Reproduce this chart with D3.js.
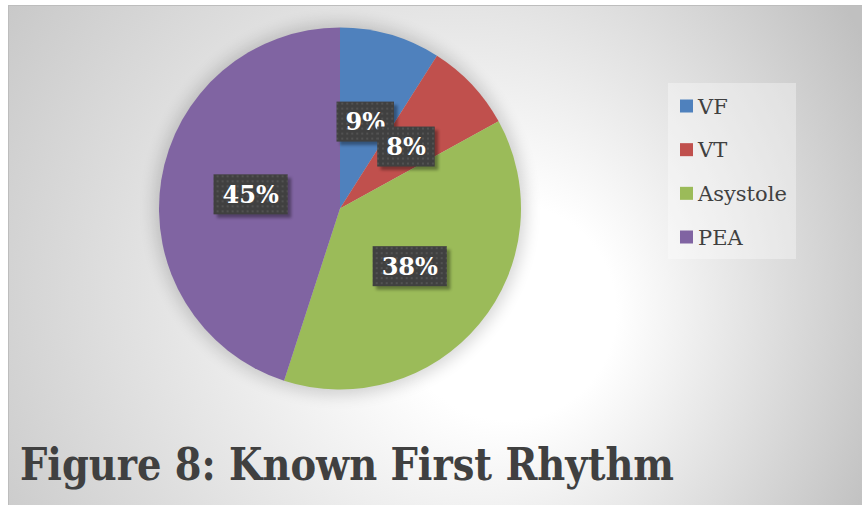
<!DOCTYPE html>
<html>
<head>
<meta charset="utf-8">
<script src="https://cdn.jsdelivr.net/npm/d3@7"></script>
<style>
  html, body { margin: 0; padding: 0; background: #ffffff; }
  svg { display: block; }
</style>
</head>
<body>
<script>
// Known first rhythm shares (percent)
const categories = ["VF", "VT", "Asystole", "PEA"];
const values = [9, 8, 38, 45];
const colors = ["#4f81bd", "#c0504d", "#9bbb59", "#8064a2"];
const titleText = "Figure 8: Known First Rhythm";

const W = 862, H = 505;
const svg = d3.select("body").append("svg").attr("width", W).attr("height", H);
const defs = svg.append("defs");

// background: soft radial light with a bright spot right of centre
const bg = defs.append("radialGradient").attr("id", "bgGrad")
  .attr("gradientUnits", "userSpaceOnUse")
  .attr("cx", 380).attr("cy", 280).attr("r", 540)
  .attr("fx", 540).attr("fy", 320);
bg.append("stop").attr("offset", "0").attr("stop-color", "#ffffff");
bg.append("stop").attr("offset", "0.2").attr("stop-color", "#ffffff");
bg.append("stop").attr("offset", "1").attr("stop-color", "#c0c0c0");

// blur for the pie halo
defs.append("filter").attr("id", "pieShadow")
  .attr("x", "-30%").attr("y", "-30%").attr("width", "160%").attr("height", "160%")
  .append("feGaussianBlur").attr("stdDeviation", 8);

// blurred offset shadow for the label boxes
const lf = defs.append("filter").attr("id", "boxShadow")
  .attr("x", "-30%").attr("y", "-30%").attr("width", "160%").attr("height", "160%");
lf.append("feGaussianBlur").attr("stdDeviation", 1.5);

// dotted texture for label boxes
const pat = defs.append("pattern").attr("id", "dots")
  .attr("patternUnits", "userSpaceOnUse").attr("width", 5).attr("height", 5);
pat.append("rect").attr("width", 5).attr("height", 5).attr("fill", "#404040");
pat.append("rect").attr("x", 1).attr("y", 1).attr("width", 2).attr("height", 2).attr("fill", "#525252");

// chart area
svg.append("rect")
  .attr("x", 8.5).attr("y", 5.5).attr("width", W - 8).attr("height", H - 5)
  .attr("fill", "url(#bgGrad)")
  .attr("stroke", "#bdbdbd").attr("stroke-width", 1);

// pie
const cx = 340, cy = 208.5, radius = 181;
const pie = d3.pie().sort(null).value(d => d.value);
const data = categories.map((c, i) => ({ name: c, value: values[i], color: colors[i] }));
const arcs = pie(data);
const arc = d3.arc().innerRadius(0).outerRadius(radius);

const g = svg.append("g").attr("transform", `translate(${cx},${cy})`);

g.append("circle")
  .attr("r", radius + 5)
  .attr("fill", "#000").attr("opacity", 0.16)
  .attr("filter", "url(#pieShadow)");

g.selectAll("path.slice").data(arcs).enter().append("path")
  .attr("class", "slice")
  .attr("d", arc)
  .attr("fill", d => d.data.color);

// data labels: dark boxes at each slice centroid
const labelFont = "'DejaVu Serif', serif";
const labels = g.selectAll("g.lbl").data(arcs).enter().append("g")
  .attr("class", "lbl")
  .attr("transform", d => { const [x, y] = arc.centroid(d); return `translate(${x},${y})`; });

labels.each(function (d) {
  const sel = d3.select(this);
  const txt = d.data.value + "%";
  const t = sel.append("text")
    .attr("text-anchor", "middle")
    .attr("y", 8.5)
    .attr("font-family", labelFont)
    .attr("font-weight", "bold")
    .attr("font-size", 24)
    .attr("fill", "#ffffff")
    .text(txt);
  const tw = t.node().getComputedTextLength();
  const bw = tw + 18, bh = 40;
  sel.insert("rect", "text")
    .attr("x", -bw / 2 + 3.5).attr("y", -bh / 2 + 3.5)
    .attr("width", bw).attr("height", bh)
    .attr("fill", "#000").attr("opacity", 0.35)
    .attr("filter", "url(#boxShadow)");
  sel.insert("rect", "text")
    .attr("x", -bw / 2).attr("y", -bh / 2)
    .attr("width", bw).attr("height", bh)
    .attr("fill", "url(#dots)");
});

// legend
const legX = 680;
const rowY = d3.scalePoint().domain(categories).range([106, 237]);
svg.append("rect")
  .attr("x", 668).attr("y", 83).attr("width", 128).attr("height", 176)
  .attr("fill", "#ffffff").attr("opacity", 0.35);

const leg = svg.selectAll("g.leg").data(data).enter().append("g")
  .attr("class", "leg")
  .attr("transform", d => `translate(${legX},${rowY(d.name)})`);
leg.append("rect")
  .attr("x", 0).attr("y", -6.5).attr("width", 13).attr("height", 13)
  .attr("fill", d => d.color);
leg.append("text")
  .attr("x", 18).attr("y", 7.5)
  .attr("font-family", labelFont)
  .attr("font-size", 21)
  .attr("fill", "#404040")
  .text(d => d.name);

// figure caption, glyphs narrowed slightly to keep its width
svg.append("text")
  .attr("x", 20).attr("y", 480)
  .attr("font-family", labelFont)
  .attr("font-weight", "bold")
  .attr("font-size", 45)
  .attr("textLength", 654)
  .attr("lengthAdjust", "spacingAndGlyphs")
  .attr("fill", "#404040")
  .text(titleText);
</script>
</body>
</html>
